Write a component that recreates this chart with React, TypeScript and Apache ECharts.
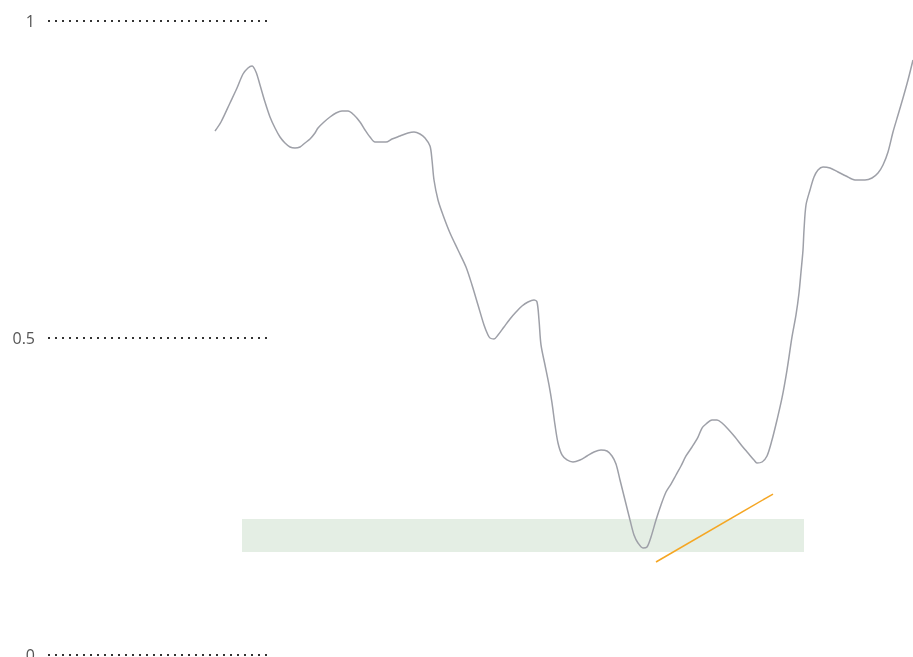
import React, { useEffect, useRef } from "react";
import * as echarts from "echarts";

const yTicks = [0, 0.5, 1];

const lineX = [0, 6, 15, 22, 28, 33, 37, 41, 45, 50, 55, 60, 65, 70, 75, 80, 85, 90, 95, 100, 103, 109, 115, 121, 127, 133, 139, 145, 150, 155, 160, 165, 171, 177, 185, 193, 199, 205, 210, 215, 217, 219, 223, 228, 235, 243, 251, 257, 263, 269, 273, 275, 279, 283, 289, 295, 301, 307, 313, 319, 322, 324, 326, 330, 334, 337, 340, 343, 347, 352, 358, 365, 372, 379, 386, 392, 397, 401, 405, 410, 415, 419, 423, 428, 432, 436, 441, 446, 451, 456, 461, 466, 471, 477, 483, 487, 491, 497, 502, 507, 513, 520, 527, 533, 539, 542, 547, 552, 557, 562, 567, 572, 577, 581, 584, 586, 588, 589, 591, 595, 599, 603, 608, 615, 623, 631, 640, 650, 657, 663, 668, 673, 678, 683, 688, 693, 698];

const lineY = [0.8265, 0.8407, 0.8707, 0.8943, 0.9164, 0.9259, 0.929, 0.9196, 0.8991, 0.8722, 0.8486, 0.8312, 0.817, 0.8076, 0.8013, 0.7997, 0.8013, 0.8076, 0.8139, 0.8233, 0.8312, 0.8407, 0.8486, 0.8549, 0.858, 0.858, 0.8517, 0.8407, 0.8281, 0.817, 0.8091, 0.8091, 0.8091, 0.8139, 0.8186, 0.8233, 0.8249, 0.8218, 0.8155, 0.8028, 0.7808, 0.7492, 0.7177, 0.694, 0.6656, 0.6388, 0.612, 0.5836, 0.5521, 0.5205, 0.5047, 0.5, 0.4984, 0.5047, 0.5174, 0.53, 0.541, 0.5505, 0.5568, 0.5599, 0.5568, 0.5284, 0.489, 0.4574, 0.4259, 0.3975, 0.3628, 0.3344, 0.3155, 0.3076, 0.3044, 0.3076, 0.3139, 0.3202, 0.3233, 0.3218, 0.3139, 0.3013, 0.276, 0.2445, 0.2129, 0.1893, 0.1767, 0.1688, 0.1703, 0.1861, 0.2129, 0.2366, 0.2571, 0.2697, 0.2839, 0.2981, 0.3139, 0.3281, 0.3438, 0.358, 0.3644, 0.3707, 0.3707, 0.3659, 0.3565, 0.3438, 0.3297, 0.3186, 0.3076, 0.3028, 0.3044, 0.3139, 0.3391, 0.3707, 0.4054, 0.4495, 0.5016, 0.5363, 0.571, 0.6041, 0.6388, 0.6703, 0.7098, 0.7334, 0.7539, 0.765, 0.7697, 0.7681, 0.7618, 0.7555, 0.7492, 0.7492, 0.7524, 0.7603, 0.7729, 0.7934, 0.8249, 0.8517, 0.8785, 0.9069, 0.9385];

const bandX = [27, 589];
const bandY = [0.1625, 0.2145];

const trendX = [441, 558];
const trendY = [0.1467, 0.2539];

export default function App() {
  const ref = useRef<HTMLDivElement>(null);
  useEffect(() => {
    if (!ref.current) return;
    const chart = echarts.init(ref.current, undefined, { renderer: "svg" });
    chart.setOption({
      animation: false,
      grid: [
        { left: 48, width: 222, top: 21, bottom: 2, containLabel: false, outerBoundsMode: "none" },
        { left: 215, right: 0, top: 21, bottom: 2, containLabel: false, outerBoundsMode: "none" },
      ],
      xAxis: [
        { gridIndex: 0, type: "value", show: false, min: 0, max: 1 },
        { gridIndex: 1, type: "value", show: false, min: 0, max: 698 },
      ],
      yAxis: [
        {
          gridIndex: 0,
          type: "value",
          min: yTicks[0],
          max: yTicks[yTicks.length - 1],
          interval: 0.5,
          axisLine: { show: false },
          axisTick: { show: false },
          axisLabel: { color: "#555", fontSize: 16, margin: 13, fontFamily: "'Open Sans', sans-serif" },
          splitLine: { lineStyle: { color: "#333", width: 2, type: [2, 5] } },
        },
        { gridIndex: 1, type: "value", show: false, min: 0, max: 1 },
      ],
      series: [
        {
          type: "line",
          xAxisIndex: 1,
          yAxisIndex: 1,
          data: lineX.map((x, i) => [x, lineY[i]]),
          symbol: "none",
          smooth: 0.3,
          lineStyle: { color: "#9ea0a8", width: 1.5 },
          markArea: {
            silent: true,
            itemStyle: { color: "#e4eee4" },
            data: [[{ coord: [bandX[0], bandY[1]] }, { coord: [bandX[1], bandY[0]] }]],
          },
          z: 3,
        },
        {
          type: "line",
          xAxisIndex: 1,
          yAxisIndex: 1,
          data: trendX.map((x, i) => [x, trendY[i]]),
          symbol: "none",
          lineStyle: { color: "#f5a623", width: 1.5 },
          z: 4,
        },
      ],
    });
    return () => chart.dispose();
  }, []);
  return <div ref={ref} style={{ position: "fixed", left: 0, top: 0, width: 913, height: 657 }} />;
}
